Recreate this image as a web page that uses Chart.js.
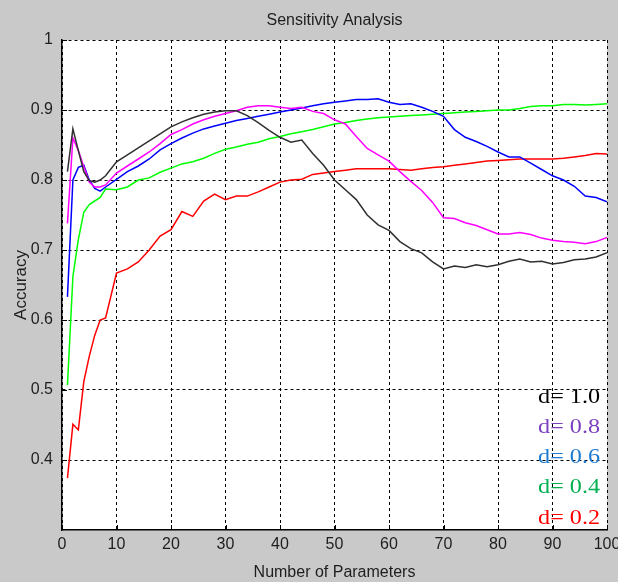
<!doctype html>
<html>

<head>
	<title>Sensitivity Analysis</title>
	<script src="https://cdn.jsdelivr.net/npm/chart.js@4.4.0/dist/chart.umd.min.js"></script>
	<style>
		html, body { margin: 0; padding: 0; background: #c9c9c9; }
		#canvas-holder { width: 618px; height: 582px; }
	</style>
</head>

<body>
	<div id="canvas-holder">
		<canvas id="chart-area" width="618" height="582"></canvas>
	</div>

	<script>
		// number of parameters (x positions)
		var params = [1, 2, 3, 4, 5, 6, 7, 8, 10, 12, 14, 16, 18, 20, 22, 24, 26, 28,
			30, 32, 34, 36, 38, 40, 42, 44, 46, 48, 50, 52, 54, 56, 58, 60, 62, 64, 66, 68,
			70, 72, 74, 76, 78, 80, 82, 84, 86, 88, 90, 92, 94, 96, 98, 100];

		var accD10 = [0.812, 0.873, 0.842, 0.812, 0.799, 0.797, 0.800, 0.806,
			0.826, 0.836, 0.846, 0.856, 0.866, 0.876, 0.883, 0.889, 0.894, 0.897,
			0.899, 0.899, 0.892, 0.882, 0.871, 0.861, 0.854, 0.857, 0.838, 0.821,
			0.800, 0.786, 0.772, 0.750, 0.736, 0.728, 0.712, 0.702, 0.696, 0.683,
			0.673, 0.677, 0.675, 0.679, 0.676, 0.679, 0.684, 0.687, 0.683, 0.684,
			0.680, 0.682, 0.686, 0.687, 0.690, 0.696];

		var accD08 = [0.738, 0.860, 0.842, 0.819, 0.797, 0.790, 0.790, 0.793,
			0.810, 0.820, 0.830, 0.840, 0.852, 0.865, 0.872, 0.880, 0.886, 0.891,
			0.895, 0.899, 0.904, 0.906, 0.906, 0.904, 0.902, 0.904, 0.898, 0.895,
			0.886, 0.880, 0.862, 0.845, 0.836, 0.827, 0.812, 0.798, 0.785, 0.768,
			0.746, 0.745, 0.739, 0.735, 0.729, 0.723, 0.723, 0.725, 0.722, 0.717,
			0.714, 0.712, 0.711, 0.709, 0.712, 0.718];

		var accD06 = [0.633, 0.800, 0.818, 0.821, 0.800, 0.788, 0.784, 0.790,
			0.801, 0.812, 0.820, 0.830, 0.843, 0.852, 0.860, 0.867, 0.873, 0.877,
			0.881, 0.885, 0.888, 0.891, 0.894, 0.897, 0.900, 0.903, 0.906, 0.909,
			0.911, 0.913, 0.915, 0.915, 0.916, 0.911, 0.908, 0.909, 0.904, 0.898,
			0.891, 0.872, 0.861, 0.855, 0.848, 0.840, 0.833, 0.833, 0.824, 0.815,
			0.806, 0.800, 0.791, 0.777, 0.775, 0.769];

		var accD04 = [0.507, 0.662, 0.715, 0.754, 0.765, 0.770, 0.775, 0.787,
			0.786, 0.790, 0.800, 0.803, 0.811, 0.817, 0.823, 0.826, 0.831, 0.838,
			0.844, 0.847, 0.851, 0.854, 0.859, 0.862, 0.866, 0.869, 0.872, 0.876,
			0.880, 0.882, 0.885, 0.887, 0.889, 0.890, 0.891, 0.892, 0.893, 0.894,
			0.895, 0.896, 0.897, 0.898, 0.899, 0.900, 0.900, 0.902, 0.905, 0.906,
			0.906, 0.908, 0.908, 0.907, 0.908, 0.909];

		var accD02 = [0.374, 0.451, 0.443, 0.512, 0.548, 0.578, 0.600, 0.603,
			0.667, 0.673, 0.683, 0.700, 0.720, 0.729, 0.755, 0.748, 0.770, 0.780,
			0.772, 0.777, 0.777, 0.783, 0.790, 0.797, 0.800, 0.801, 0.808, 0.810,
			0.812, 0.814, 0.816, 0.816, 0.816, 0.816, 0.815, 0.814, 0.816, 0.818,
			0.819, 0.821, 0.823, 0.825, 0.827, 0.828, 0.829, 0.830, 0.830, 0.830,
			0.830, 0.831, 0.833, 0.835, 0.838, 0.837];

		var seriesLabels = ['d= 1.0', 'd= 0.8', 'd= 0.6', 'd= 0.4', 'd= 0.2'];
		var lineColors = ['#303030', '#ff00ff', '#0000ff', '#00ff00', '#ff0000'];
		var labelColors = ['#000000', '#7b3fbf', '#1f7bd0', '#00b050', '#ff0000'];

		function points(ys) {
			return params.map(function(p, i) { return {x: p, y: ys[i]}; });
		}

		var sansFont = '"Liberation Sans", Arial, sans-serif';
		var textColor = '#1e1e1e';

		var matlabLook = {
			id: 'matlabLook',
			beforeDraw: function(chart) {
				var ctx = chart.ctx, a = chart.chartArea;
				ctx.save();
				ctx.fillStyle = '#c9c9c9';
				ctx.fillRect(0, 0, chart.width, chart.height);
				ctx.fillStyle = '#ffffff';
				ctx.fillRect(a.left, a.top, a.right - a.left, a.bottom - a.top);
				ctx.restore();
			},
			afterDraw: function(chart) {
				var ctx = chart.ctx, a = chart.chartArea;
				var xs = chart.scales.x, ys = chart.scales.y;
				ctx.save();
				// inner tick marks
				ctx.strokeStyle = '#000';
				ctx.lineWidth = 1;
				ctx.beginPath();
				xs.ticks.forEach(function(t) {
					var px = Math.round(xs.getPixelForValue(t.value)) + 0.5;
					ctx.moveTo(px, a.bottom);
					ctx.lineTo(px, a.bottom - 5);
				});
				ys.ticks.forEach(function(t) {
					var py = Math.round(ys.getPixelForValue(t.value)) + 0.5;
					ctx.moveTo(a.left, py);
					ctx.lineTo(a.left + 5, py);
				});
				ctx.stroke();

				// titles
				ctx.fillStyle = textColor;
				ctx.textAlign = 'center';
				ctx.textBaseline = 'alphabetic';
				ctx.font = '16px ' + sansFont;
				ctx.fillText('Sensitivity Analysis', (a.left + a.right) / 2, 25);
				ctx.fillText('Number of Parameters', (a.left + a.right) / 2, 577);
				ctx.translate(26, (a.top + a.bottom) / 2);
				ctx.rotate(-Math.PI / 2);
				ctx.font = '17px ' + sansFont;
				ctx.fillText('Accuracy', 0, 0);
				ctx.setTransform(1, 0, 0, 1, 0, 0);

				// series labels in the corner (slightly stretched, like the picture)
				ctx.font = '21px "Liberation Serif", "Times New Roman", serif';
				ctx.textAlign = 'right';
				var base = [403, 433, 463, 493, 524];
				seriesLabels.forEach(function(s, i) {
					ctx.save();
					ctx.translate(600, base[i]);
					ctx.scale(1.15, 1);
					ctx.fillStyle = labelColors[i];
					ctx.fillText(s, 0, 0);
					ctx.restore();
				});
				ctx.restore();
			}
		};

		var ctx = document.getElementById('chart-area').getContext('2d');
		window.sensChart = new Chart(ctx, {
			type: 'line',
			data: {
				datasets: seriesLabels.map(function(lbl, i) {
					return {
						label: lbl,
						data: points([accD10, accD08, accD06, accD04, accD02][i]),
						borderColor: lineColors[i],
						borderWidth: 1.5,
						pointRadius: 0,
						tension: 0,
						fill: false
					};
				})
			},
			options: {
				responsive: false,
				animation: false,
				layout: { padding: { top: 40, right: 11, left: 0, bottom: 0 } },
				plugins: {
					legend: { display: false },
					title: { display: false },
					tooltip: { enabled: false }
				},
				scales: {
					x: {
						type: 'linear',
						min: 0,
						max: 100,
						ticks: {
							stepSize: 10,
							padding: 5,
							color: textColor,
							font: { family: sansFont, size: 16 },
							maxRotation: 0,
							autoSkip: false
						},
						grid: { color: '#000', lineWidth: 1, drawTicks: false },
						border: { color: '#000', width: 1.5, dash: [3, 3] },
						afterFit: function(scale) {
							scale.height = 52;
							scale.paddingLeft = 0;
							scale.paddingRight = 0;
						}
					},
					y: {
						min: 0.3,
						max: 1,
						ticks: {
							stepSize: 0.1,
							padding: 9,
							color: textColor,
							font: { family: sansFont, size: 16 },
							callback: function(v) {
								if (Math.abs(v - 0.3) < 1e-6) return null;
								return String(+v.toFixed(1));
							}
						},
						grid: { color: '#000', lineWidth: 1, drawTicks: false },
						border: { color: '#000', width: 1.5, dash: [3, 3] },
						afterFit: function(scale) {
							scale.width = 62;
							scale.paddingTop = 0;
							scale.paddingBottom = 0;
						}
					}
				}
			},
			plugins: [matlabLook]
		});
	</script>
</body>

</html>
